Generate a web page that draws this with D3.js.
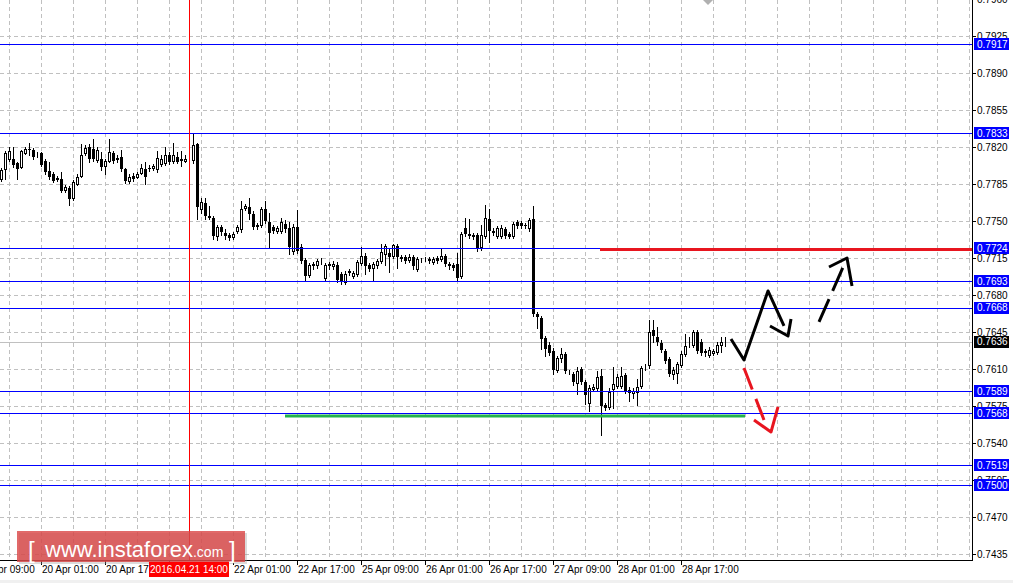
<!DOCTYPE html>
<html>
<head>
<meta charset="utf-8">
<script src="https://cdn.jsdelivr.net/npm/d3@7"></script>
<style>
body { margin: 0; background: #fff; overflow: hidden; }
text { font-family: "Liberation Sans", Arial, sans-serif; }
</style>
</head>
<body>
<script>
// AUDUSD H1, 19 Apr 15:00 .. 29 Apr 04:00 (bar index 0..181)
var opens = [.7790,.7799,.7809,.7809,.7805,.7801,.7814,.7818,.7817,.7813,.7814,.7807,.7797,.7794,.7790,.7790,.7779,.7781,.7772,.7785,
  .7793,.7814,.7820,.7818,.7808,.7809,.7802,.7807,.7814,.7809,.7811,.7799,.7788,.7793,.7792,.7795,.7799,.7800,.7800,.7799,
  .7804,.7805,.7812,.7807,.7811,.7809,.7807,.7808,.7808,.7823,.7761,.7767,.7755,.7753,.7736,.7744,.7739,.7737,.7735,.7741,
  .7742,.7762,.7763,.7757,.7746,.7746,.7761,.7749,.7744,.7741,.7741,.7747,.7743,.7722,.7744,.7725,.7713,.7699,.7709,.7708,
  .7712,.7696,.7709,.7707,.7708,.7700,.7692,.7703,.7698,.7700,.7710,.7717,.7708,.7706,.7708,.7712,.7719,.7720,.7717,.7726,
  .7716,.7716,.7713,.7716,.7705,.7713,.7714,.7714,.7711,.7715,.7714,.7717,.7709,.7708,.7709,.7698,.7743,.7738,.7737,.7737,
  .7725,.7736,.7752,.7741,.7736,.7736,.7742,.7738,.7736,.7749,.7748,.7746,.7743,.7752,.7662,.7658,.7639,.7633,.7627,.7609,
  .7620,.7624,.7607,.7605,.7597,.7610,.7598,.7578,.7591,.7592,.7603,.7576,.7574,.7591,.7594,.7594,.7604,.7590,.7587,.7588,
  .7594,.7612,.7614,.7647,.7640,.7635,.7627,.7619,.7605,.7606,.7614,.7624,.7634,.7633,.7645,.7636,.7627,.7623,.7625,.7626,
  .7633,.7636];
var highs = [.7800,.7816,.7820,.7820,.7806,.7817,.7820,.7824,.7819,.7815,.7815,.7809,.7806,.7796,.7793,.7796,.7784,.7783,.7789,.7794,
  .7823,.7822,.7823,.7828,.7820,.7815,.7809,.7828,.7816,.7812,.7817,.7800,.7794,.7795,.7796,.7804,.7806,.7803,.7804,.7816,
  .7812,.7820,.7815,.7824,.7815,.7816,.7812,.7809,.7832,.7824,.7772,.7772,.7764,.7755,.7746,.7746,.7742,.7739,.7740,.7746,
  .7769,.7766,.7772,.7759,.7748,.7763,.7769,.7758,.7746,.7745,.7753,.7751,.7749,.7747,.7760,.7728,.7715,.7710,.7711,.7714,
  .7715,.7710,.7711,.7712,.7711,.7702,.7703,.7705,.7703,.7713,.7725,.7720,.7710,.7711,.7714,.7728,.7728,.7724,.7728,.7728,
  .7718,.7718,.7719,.7718,.7716,.7715,.7716,.7716,.7716,.7717,.7724,.7719,.7711,.7710,.7720,.7740,.7753,.7752,.7739,.7739,
  .7746,.7765,.7761,.7743,.7745,.7746,.7744,.7740,.7749,.7751,.7750,.7748,.7753,.7764,.7664,.7660,.7641,.7636,.7630,.7622,
  .7630,.7626,.7609,.7607,.7612,.7612,.7600,.7595,.7596,.7608,.7610,.7578,.7592,.7612,.7605,.7612,.7606,.7593,.7592,.7601,
  .7613,.7615,.7656,.7656,.7650,.7637,.7629,.7621,.7612,.7617,.7627,.7643,.7640,.7647,.7647,.7638,.7629,.7631,.7629,.7636,
  .7640,.7640];
var lows = [.7788,.7790,.7807,.7801,.7790,.7800,.7813,.7812,.7809,.7811,.7802,.7794,.7790,.7787,.7788,.7777,.7777,.7765,.7770,.7784,
  .7792,.7812,.7806,.7807,.7806,.7798,.7794,.7806,.7805,.7806,.7797,.7786,.7786,.7788,.7791,.7794,.7785,.7797,.7798,.7796,
  .7802,.7803,.7804,.7805,.7805,.7802,.7806,.7807,.7805,.7752,.7758,.7752,.7752,.7733,.7732,.7737,.7733,.7732,.7733,.7739,
  .7740,.7760,.7752,.7742,.7742,.7744,.7748,.7724,.7739,.7739,.7739,.7740,.7719,.7719,.7720,.7710,.7694,.7697,.7705,.7706,
  .7709,.7694,.7705,.7705,.7692,.7690,.7690,.7699,.7696,.7698,.7708,.7700,.7703,.7694,.7706,.7710,.7708,.7702,.7715,.7706,
  .7712,.7710,.7711,.7705,.7703,.7711,.7712,.7710,.7709,.7710,.7712,.7707,.7705,.7704,.7694,.7696,.7736,.7734,.7733,.7722,
  .7723,.7734,.7730,.7737,.7734,.7734,.7734,.7734,.7734,.7743,.7743,.7743,.7741,.7660,.7649,.7629,.7622,.7623,.7605,.7607,
  .7617,.7606,.7605,.7595,.7586,.7596,.7577,.7570,.7589,.7590,.7548,.7571,.7572,.7573,.7592,.7592,.7587,.7580,.7583,.7576,
  .7592,.7609,.7611,.7636,.7633,.7626,.7616,.7603,.7601,.7597,.7612,.7622,.7631,.7631,.7625,.7623,.7622,.7621,.7623,.7624,
  .7626,.7632];
var closes = [.7798,.7814,.7816,.7803,.7799,.7816,.7818,.7817,.7811,.7813,.7803,.7796,.7792,.7788,.7791,.7778,.7782,.7771,.7787,.7792,
  .7812,.7819,.7809,.7809,.7817,.7801,.7807,.7815,.7807,.7810,.7799,.7788,.7792,.7790,.7794,.7800,.7792,.7799,.7802,.7810,
  .7809,.7812,.7806,.7812,.7806,.7807,.7809,.7808,.7822,.7763,.7768,.7755,.7753,.7736,.7744,.7740,.7736,.7734,.7738,.7744,
  .7761,.7764,.7757,.7744,.7744,.7761,.7750,.7739,.7741,.7743,.7749,.7742,.7725,.7744,.7722,.7712,.7698,.7708,.7707,.7712,
  .7712,.7708,.7707,.7709,.7694,.7692,.7700,.7701,.7701,.7711,.7717,.7707,.7705,.7709,.7712,.7721,.7726,.7716,.7727,.7716,
  .7714,.7712,.7716,.7707,.7714,.7713,.7714,.7712,.7714,.7712,.7717,.7709,.7707,.7706,.7696,.7738,.7738,.7736,.7735,.7724,
  .7737,.7753,.7741,.7739,.7743,.7743,.7736,.7735,.7747,.7745,.7745,.7745,.7751,.7662,.7659,.7638,.7629,.7625,.7609,.7620,
  .7624,.7608,.7607,.7598,.7608,.7598,.7585,.7592,.7593,.7602,.7575,.7573,.7588,.7596,.7602,.7603,.7589,.7587,.7589,.7593,
  .7611,.7612,.7645,.7641,.7636,.7628,.7618,.7605,.7609,.7615,.7624,.7632,.7634,.7645,.7627,.7625,.7625,.7628,.7627,.7633,
  .7636,.7636];

var priceTicks = ["0.7960","0.7925","0.7890","0.7855","0.7820","0.7785","0.7750","0.7715","0.7680","0.7645",
  "0.7610","0.7575","0.7540","0.7505","0.7470","0.7435"];
var timeTickBars = [-6, 10, 26, 42, 58, 74, 90, 106, 122, 138, 154, 170];
var timeTickLabels = ["19 Apr 09:00","20 Apr 01:00","20 Apr 17:00","21 Apr 09:00","22 Apr 01:00","22 Apr 17:00",
  "25 Apr 09:00","26 Apr 01:00","26 Apr 17:00","27 Apr 09:00","28 Apr 01:00","28 Apr 17:00"];

var levels = [0.7917, 0.7833, 0.7724, 0.7693, 0.7668, 0.7589, 0.7568, 0.7519, 0.7500];
var lastPrice = 0.7636;
var cursorBar = 47, cursorLabel = "2016.04.21 14:00";

// drawn objects: [bar, price]
var resistance = {price: 0.7723, from: 149.75};
var support = {price: 0.75655, from: 71, to: 186};
var upZigzag = [[182.5, 0.76384], [185.75, 0.76185], [191.75, 0.76838], [195.75, 0.76507]];
var upZigzagHead = [[192.25, 0.76507], [196.75, 0.76412], [197.5, 0.76573]];
var upDashed = [[204.5, 0.76545], [210.75, 0.77084]];
var upDashedHead = [[207, 0.77065], [211.5, 0.77150], [212.75, 0.76885]];
var downDashed = [[185.75, 0.76109], [190.75, 0.75618]];
var downDashedHead = [[188.25, 0.75618], [192.5, 0.75504], [194.25, 0.75741]];

var width = 1013, height = 583,
  plotRight = 972, plotBottom = 560;

var x = d3.scaleLinear().domain([0, 1]).range([1, 5]);
var y = d3.scaleLinear().domain([0.7435, 0.7960]).range([554, -1]);

var svg = d3.select("body").append("svg")
  .attr("width", width)
  .attr("height", height);

function py(p) { return Math.round(y(p)) + 0.5; }
function px(i) { return Math.round(x(i)) + 0.5; }

// grid
var grid = svg.append("g")
  .attr("stroke", "#c0c0c0")
  .attr("stroke-dasharray", "4,3")
  .attr("shape-rendering", "crispEdges");

grid.selectAll(".gh")
  .data(priceTicks)
  .enter().append("line")
  .attr("x1", 0).attr("x2", plotRight)
  .attr("y1", function(d) { return py(+d); })
  .attr("y2", function(d) { return py(+d); });

grid.selectAll(".gv")
  .data(d3.range(2, 245, 8))
  .enter().append("line")
  .attr("x1", function(d) { return px(d); })
  .attr("x2", function(d) { return px(d); })
  .attr("y1", 0).attr("y2", plotBottom);

// current price line
svg.append("line")
  .attr("x1", 0).attr("x2", plotRight)
  .attr("y1", py(lastPrice)).attr("y2", py(lastPrice))
  .attr("stroke", "#c0c0c0")
  .attr("shape-rendering", "crispEdges");

// candles
var bars = opens.map(function(o, i) {
  return {i: i, o: o, h: highs[i], l: lows[i], c: closes[i]};
});

var candle = svg.append("g")
  .attr("shape-rendering", "crispEdges")
  .selectAll("g")
  .data(bars)
  .enter().append("g");

candle.append("line")
  .attr("x1", function(d) { return px(d.i); })
  .attr("x2", function(d) { return px(d.i); })
  .attr("y1", function(d) { return Math.round(y(d.h)); })
  .attr("y2", function(d) { return Math.round(y(d.l)) + 1; })
  .attr("stroke", "#000");

candle.append("rect")
  .attr("x", function(d) { return d.c >= d.o ? Math.round(x(d.i)) - 0.5 : Math.round(x(d.i)) - 1; })
  .attr("y", function(d) {
    var t = Math.round(y(Math.max(d.o, d.c)));
    return d.c >= d.o ? t + 0.5 : t;
  })
  .attr("width", function(d) { return d.c >= d.o ? 2 : 3; })
  .attr("height", function(d) {
    var t = Math.round(y(Math.max(d.o, d.c))), b = Math.round(y(Math.min(d.o, d.c)));
    return d.c >= d.o ? Math.max(b - t, 0) : Math.max(b - t, 1);
  })
  .attr("fill", function(d) { return d.c >= d.o ? "#fff" : "#000"; })
  .attr("stroke", function(d) { return d.c >= d.o ? "#000" : "none"; });

// horizontal levels
svg.append("g")
  .attr("shape-rendering", "crispEdges")
  .selectAll("line")
  .data(levels)
  .enter().append("line")
  .attr("x1", 0).attr("x2", plotRight)
  .attr("y1", function(d) { return py(d); })
  .attr("y2", function(d) { return py(d); })
  .attr("stroke", "#0000ff");

// cursor
svg.append("line")
  .attr("x1", px(cursorBar)).attr("x2", px(cursorBar))
  .attr("y1", 0).attr("y2", plotBottom)
  .attr("stroke", "#ff0000")
  .attr("shape-rendering", "crispEdges");

// resistance / support
svg.append("line")
  .attr("x1", x(resistance.from)).attr("x2", plotRight)
  .attr("y1", y(resistance.price)).attr("y2", y(resistance.price))
  .attr("stroke", "#e8151f").attr("stroke-width", 3);

svg.append("line")
  .attr("x1", x(support.from)).attr("x2", x(support.to))
  .attr("y1", y(support.price)).attr("y2", y(support.price))
  .attr("stroke", "#23b14d").attr("stroke-width", 3);

// forecast arrows
var line = d3.line()
  .x(function(d) { return x(d[0]); })
  .y(function(d) { return y(d[1]); });

function arrow(pts, color, dash) {
  svg.append("path")
    .attr("d", line(pts))
    .attr("fill", "none")
    .attr("stroke", color)
    .attr("stroke-width", 3)
    .attr("stroke-linejoin", "round")
    .attr("stroke-dasharray", dash || null);
}
arrow(upZigzag, "#000");
arrow(upZigzagHead, "#000");
arrow(upDashed, "#000", "25,9");
arrow(upDashedHead, "#000");
arrow(downDashed, "#e8151f", "23,10");
arrow(downDashedHead, "#e8151f");

// small marker at the top
svg.append("path")
  .attr("d", "M" + (x(176.75) - 5) + ",0 L" + (x(176.75) + 5) + ",0 L" + x(176.75) + ",5 Z")
  .attr("fill", "#b0b0b0");

// axes
svg.append("line")
  .attr("x1", plotRight + 0.5).attr("x2", plotRight + 0.5)
  .attr("y1", 0).attr("y2", plotBottom + 1)
  .attr("stroke", "#000");
svg.append("line")
  .attr("x1", 0).attr("x2", plotRight + 1)
  .attr("y1", plotBottom + 0.5).attr("y2", plotBottom + 0.5)
  .attr("stroke", "#000");

var yAxis = svg.append("g");
yAxis.selectAll("line")
  .data(priceTicks)
  .enter().append("line")
  .attr("x1", plotRight).attr("x2", plotRight + 4)
  .attr("y1", function(d) { return py(+d); })
  .attr("y2", function(d) { return py(+d); })
  .attr("stroke", "#000")
  .attr("shape-rendering", "crispEdges");
yAxis.selectAll("text")
  .data(priceTicks)
  .enter().append("text")
  .attr("x", plotRight + 5)
  .attr("y", function(d) { return y(+d); })
  .attr("dy", "0.35em")
  .attr("font-size", "10px")
  .text(function(d) { return d; });

var xAxis = svg.append("g");
xAxis.selectAll("line")
  .data(timeTickBars)
  .enter().append("line")
  .attr("x1", function(d) { return px(d); })
  .attr("x2", function(d) { return px(d); })
  .attr("y1", plotBottom).attr("y2", plotBottom + 5)
  .attr("stroke", "#000")
  .attr("shape-rendering", "crispEdges");
xAxis.selectAll("text")
  .data(timeTickBars)
  .enter().append("text")
  .attr("x", function(d) { return x(d) + 1; })
  .attr("y", plotBottom + 13)
  .attr("font-size", "10px")
  .text(function(d, i) { return timeTickLabels[i]; });

// level labels
function priceLabel(p, bg) {
  var g = svg.append("g");
  g.append("rect")
    .attr("x", plotRight + 2).attr("y", Math.round(y(p)) - 6)
    .attr("width", 35).attr("height", 12)
    .attr("fill", bg);
  g.append("text")
    .attr("x", plotRight + 5).attr("y", y(p))
    .attr("dy", "0.35em")
    .attr("font-size", "10px")
    .attr("fill", "#fff")
    .text(p.toFixed(4));
}
levels.forEach(function(p) { priceLabel(p, "#0000ff"); });
priceLabel(lastPrice, "#000");

// watermark
var logo = svg.append("g");
logo.append("rect")
  .attr("x", 19).attr("y", 533).attr("width", 228).attr("height", 31)
  .attr("fill", "#999").attr("opacity", 0.35);
logo.append("rect")
  .attr("x", 17).attr("y", 531).attr("width", 228).attr("height", 31)
  .attr("fill", "#d94444").attr("opacity", 0.8);
logo.append("text")
  .attr("x", 28).attr("y", 558)
  .attr("font-size", "24px").attr("fill", "#fff").attr("font-weight", "300")
  .text("[");
logo.append("text")
  .attr("x", 45).attr("y", 557)
  .attr("font-size", "22px").attr("fill", "#fff")
  .text("www.instaforex")
  .append("tspan")
  .attr("font-size", "14px")
  .text(".com");
logo.append("text")
  .attr("x", 229).attr("y", 558)
  .attr("font-size", "24px").attr("fill", "#fff").attr("font-weight", "300")
  .text("]");

// cursor time label
svg.append("rect")
  .attr("x", x(cursorBar) - 40).attr("y", plotBottom + 2)
  .attr("width", 80).attr("height", 15)
  .attr("fill", "#ff0000");
svg.append("text")
  .attr("x", x(cursorBar)).attr("y", plotBottom + 13)
  .attr("text-anchor", "middle")
  .attr("font-size", "10px")
  .attr("fill", "#fff")
  .text(cursorLabel);

svg.append("rect")
  .attr("x", 0).attr("y", height - 3).attr("width", width).attr("height", 3)
  .attr("fill", "#f0f0f0");
</script>
</body>
</html>
